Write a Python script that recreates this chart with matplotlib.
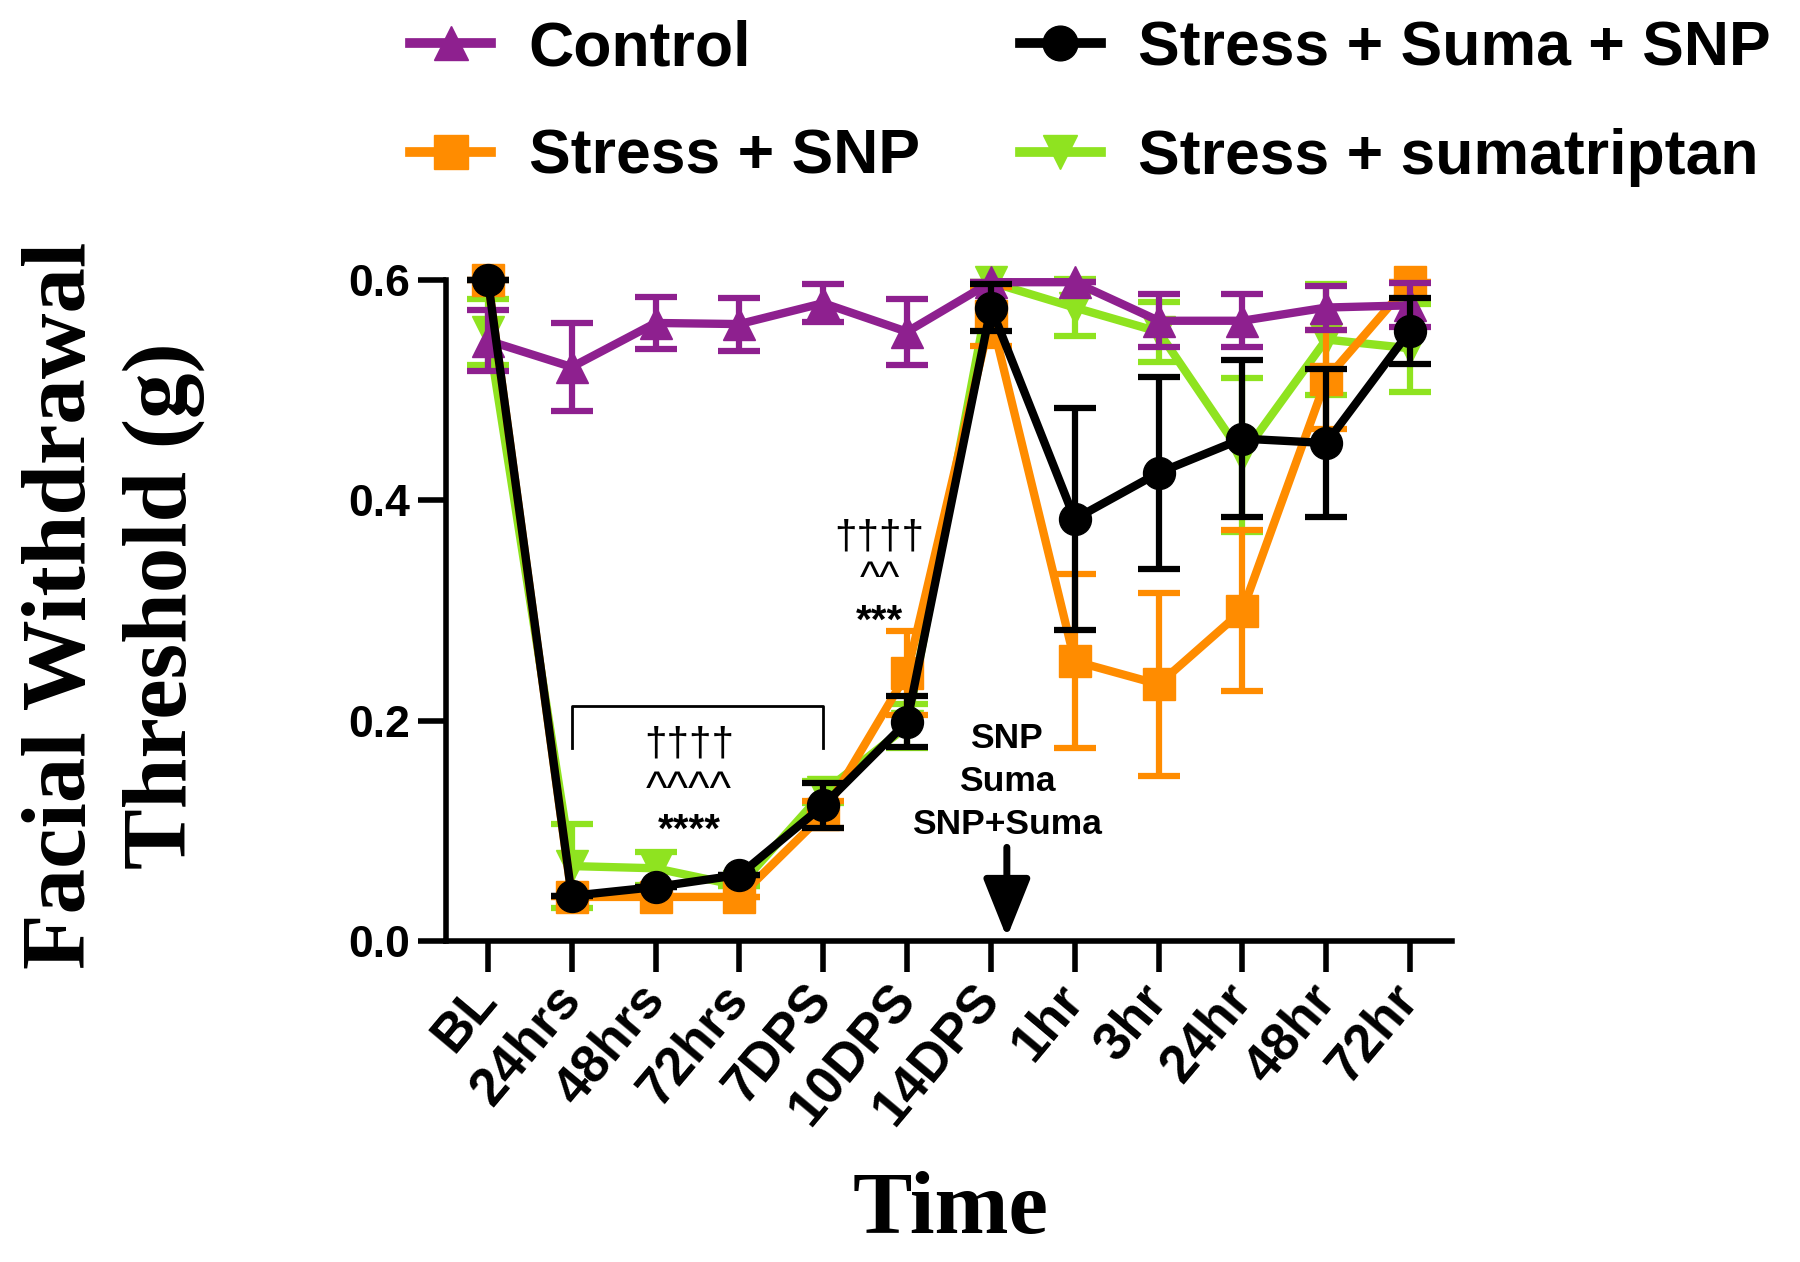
import matplotlib
matplotlib.use("Agg")
import matplotlib.pyplot as plt
from matplotlib.lines import Line2D
import numpy as np

categories = ["BL", "24hrs", "48hrs", "72hrs", "7DPS", "10DPS", "14DPS",
              "1hr", "3hr", "24hr", "48hr", "72hr"]

control = [0.545, 0.521, 0.561, 0.560, 0.579, 0.553, 0.598, 0.598, 0.563, 0.563, 0.575, 0.577]
control_err = [0.028, 0.040, 0.024, 0.024, 0.017, 0.030, 0.0, 0.0, 0.024, 0.024, 0.020, 0.020]

stress_snp = [0.600, 0.040, 0.040, 0.040, 0.115, 0.243, 0.567, 0.254, 0.233, 0.300, 0.510, 0.598]
stress_snp_err = [0.0, 0.0, 0.0, 0.0, 0.012, 0.038, 0.027, 0.079, 0.083, 0.073, 0.045, 0.0]

stress_suma_snp = [0.600, 0.041, 0.049, 0.060, 0.123, 0.199, 0.575, 0.383, 0.425, 0.456, 0.452, 0.554]
stress_suma_snp_err = [0.0, 0.0, 0.0, 0.0, 0.020, 0.023, 0.021, 0.101, 0.087, 0.071, 0.067, 0.030]

stress_suma = [0.553, 0.068, 0.066, 0.050, 0.135, 0.195, 0.598, 0.575, 0.553, 0.441, 0.546, 0.538]
stress_suma_err = [0.030, 0.038, 0.015, 0.0, 0.010, 0.020, 0.0, 0.026, 0.027, 0.070, 0.050, 0.040]

yticks = [0.0, 0.2, 0.4, 0.6]
ytick_labels = ["0.0", "0.2", "0.4", "0.6"]

PURPLE = "#8E208F"
ORANGE = "#FF8C00"
GREEN = "#8FE320"
BLACK = "#000000"

plt.rcParams['font.family'] = ['Liberation Sans', 'DejaVu Sans']

fig = plt.figure(figsize=(18, 12.62), dpi=100)
ax = fig.add_axes([446/1800, 1-941/1262, (1452-446)/1800, (941-280)/1262])

x = np.arange(len(categories))

series = [
    ("Stress + sumatriptan", stress_suma, stress_suma_err, GREEN, "v", 2),
    ("Stress + SNP", stress_snp, stress_snp_err, ORANGE, "s", 3),
    ("Control", control, control_err, PURPLE, "^", 4),
    ("Stress + Suma + SNP", stress_suma_snp, stress_suma_snp_err, BLACK, "o", 5),
]
handles = {}
for name, y, e, c, m, z in series:
    eb = ax.errorbar(x, y, yerr=e, color=c, marker=m, markersize=23, lw=6,
                     elinewidth=4.5, capsize=15, capthick=4.5, zorder=z, clip_on=False)
    for a in [eb.lines[0]] + list(eb.lines[1]) + list(eb.lines[2]):
        a.set_clip_on(False)
        a.set_zorder(z)
    handles[name] = Line2D([], [], color=c, marker=m, markersize=25, lw=7)

ax.set_xlim(-0.5, 11.5)
ax.set_ylim(0, 0.6)
ax.spines['top'].set_visible(False)
ax.spines['right'].set_visible(False)
ax.spines['left'].set_linewidth(4)
ax.spines['bottom'].set_linewidth(4)
ax.set_xticks(x)
ax.set_xticklabels(categories, rotation=50, ha='right', va='center', rotation_mode='anchor',
                   fontsize=38, fontweight='bold')
ax.set_yticks(yticks)
ax.set_yticklabels(ytick_labels, fontsize=32, fontweight='bold')
ax.tick_params(axis='x', length=22, width=4, pad=14)
ax.tick_params(axis='y', length=20, width=4, pad=6)

# Annotations
ax.plot([1, 1, 4, 4], [0.175, 0.213, 0.213, 0.175], color='black', lw=2, clip_on=False, zorder=6)
ax.text(2.4, 0.178, "††††", ha='center', va='center', fontsize=29, zorder=6)
ax.text(2.4, 0.136, "^^^^", ha='center', va='center', fontsize=33, zorder=6)
ax.text(2.4, 0.100, "****", ha='center', va='center', fontsize=29, fontweight='bold', zorder=6)
ax.text(4.67, 0.366, "††††", ha='center', va='center', fontsize=29, zorder=6)
ax.text(4.67, 0.328, "^^", ha='center', va='center', fontsize=31, zorder=6)
ax.text(4.67, 0.290, "***", ha='center', va='center', fontsize=29, fontweight='bold', zorder=6)

ax.text(6.19, 0.184, "SNP", ha='center', va='center', fontsize=25.5, fontweight='bold')
ax.text(6.19, 0.145, "Suma", ha='center', va='center', fontsize=25.5, fontweight='bold')
ax.text(6.19, 0.106, "SNP+Suma", ha='center', va='center', fontsize=25.5, fontweight='bold')
ax.annotate("", xy=(6.19, 0.003), xytext=(6.19, 0.085),
            arrowprops=dict(arrowstyle='-|>,head_length=0.5,head_width=0.2', lw=5,
                            color='black', mutation_scale=72, shrinkA=0, shrinkB=0))

order = ["Control", "Stress + SNP", "Stress + Suma + SNP", "Stress + sumatriptan"]
leg = fig.legend([handles[n] for n in order], order, loc='upper left',
                 bbox_to_anchor=(385/1800, 1.0 + 6/1262), ncol=2, frameon=False,
                 prop=dict(family='Liberation Sans', weight='bold', size=45),
                 handlelength=1.3, handletextpad=0.6, columnspacing=1.6,
                 labelspacing=0.8, borderaxespad=0.0)

fig.text(0.063, 0.52, "Facial Withdrawal\nThreshold (g)", rotation=90, ha='center', va='center',
         family='Liberation Serif', fontweight='bold', fontsize=65.5, linespacing=1.3)
fig.text(950/1800, 0.04, "Time", ha='center', va='center', family='Liberation Serif',
         fontweight='bold', fontsize=64)

fig.savefig("out.png", dpi=100)
